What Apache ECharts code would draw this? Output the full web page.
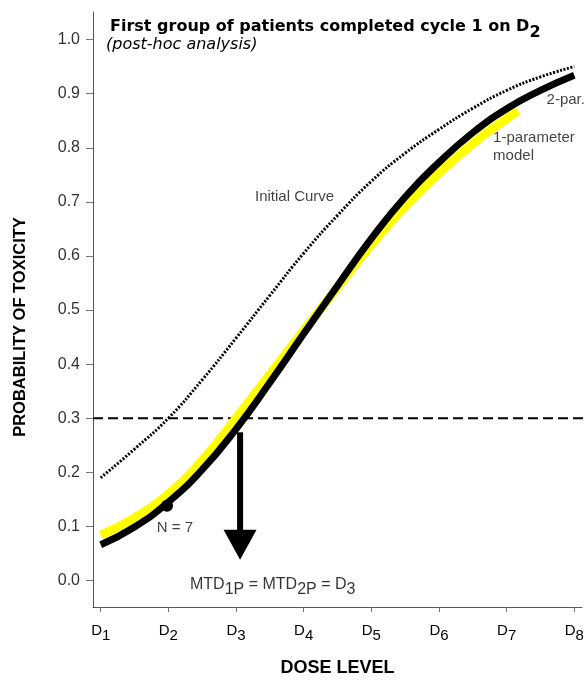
<!DOCTYPE html>
<html><head><meta charset="utf-8">
<script src="https://cdn.jsdelivr.net/npm/echarts@6/dist/echarts.min.js"></script>
<style>html,body{margin:0;padding:0;background:#fff}#c{width:588px;height:692px}</style>
</head><body><div id="c"></div>
<script>
// ---- data ----
const doseTicks = [1, 2, 3, 4, 5, 6, 7, 8];
const doseLabels = ['1', '2', '3', '4', '5', '6', '7', '8'];
const probTicks = [0, 0.1, 0.2, 0.3, 0.4, 0.5, 0.6, 0.7, 0.8, 0.9, 1.0];
const curveDoses = [1, 1.5, 2, 2.5, 3, 3.5, 4, 4.5, 5, 5.5, 6, 6.5, 7, 7.5, 8];
const initialCurve = [0.19, 0.243, 0.30, 0.371, 0.448, 0.527, 0.605, 0.675, 0.738, 0.79, 0.834, 0.873, 0.906, 0.931, 0.95];
const twoParCurve = [0.066, 0.099, 0.145, 0.205, 0.28, 0.366, 0.456, 0.545, 0.632, 0.709, 0.773, 0.828, 0.872, 0.906, 0.934];
const oneParDoses = [1, 1.5, 2, 2.5, 3, 3.5, 4, 4.5, 5, 5.5, 6, 6.5, 7, 7.17];
const oneParCurve = [0.084, 0.116, 0.16, 0.222, 0.3, 0.381, 0.462, 0.542, 0.621, 0.692, 0.753, 0.808, 0.854, 0.868];
const targetTox = 0.3;
const targetRange = [0.886, 8.2];
const observedDose = [1.98];
const observedTox = [0.138];
const mtdArrowDose = 3.06;
const mtdArrowShaft = [0.274, 0.088];
const mtdArrowHead = 0.066;
const noteTexts = ['Initial Curve', 'N = 7', '2-par.', '1-parameter\nmodel'];
const noteDoses = [3.28, 1.83, 7.59, 6.80];
const noteProbs = [0.709, 0.097, 0.888, 0.801];
const mtdNoteDose = 2.32;
const mtdNoteProb = -0.009;

// ---- chart ----
const FONT = '"Liberation Sans", Arial, sans-serif';
const WIDE = '"DejaVu Sans", sans-serif';
const pair = (xs, ys) => xs.map((x, i) => [x, ys[i]]);
const chart = echarts.init(document.getElementById('c'));
const subRich = (family, size, weight, pad) => ({
  m: {fontFamily: family, fontSize: size, fontWeight: weight, color: '#000', verticalAlign: 'top', lineHeight: size + 2},
  s: {fontFamily: family, fontSize: size, fontWeight: weight, color: '#000', verticalAlign: 'top', lineHeight: size + 2, padding: [pad, 0, 0, 0]}
});

const option = {
  animation: false,
  backgroundColor: '#fff',
  title: [
    {text: '{m|First group of patients completed cycle 1 on D}{s|2}', left: 105, top: 14,
     textStyle: {rich: subRich(WIDE, 16, 'bold', 6)}},
    {text: '(post-hoc analysis)', left: 101, top: 32,
     textStyle: {fontFamily: WIDE, fontSize: 16, fontStyle: 'italic', fontWeight: 'normal', color: '#000'}}
  ],
  grid: {left: 93, right: 6, top: 12, bottom: 85},
  xAxis: {
    type: 'value', min: 0.886, max: 8.114,
    name: 'DOSE LEVEL', nameLocation: 'middle', nameGap: 52,
    nameTextStyle: {fontFamily: FONT, fontSize: 18, fontWeight: 'bold', color: '#000'},
    axisLine: {show: true, onZero: false, lineStyle: {color: '#555', width: 1}},
    axisTick: {show: true, customValues: doseTicks, length: 5, lineStyle: {color: '#777'}},
    axisLabel: {
      customValues: doseTicks, margin: 16,
      formatter: v => '{m|D}{s|' + doseLabels[doseTicks.indexOf(v)] + '}',
      rich: subRich(FONT, 15, 'normal', 5)
    },
    splitLine: {show: false}
  },
  yAxis: {
    type: 'value', min: -0.049, max: 1.051,
    axisLine: {show: true, onZero: false, lineStyle: {color: '#555', width: 1}},
    axisTick: {show: true, customValues: probTicks, length: 7, lineStyle: {color: '#777'}},
    axisLabel: {customValues: probTicks, margin: 13, formatter: v => v.toFixed(1),
      fontFamily: FONT, fontSize: 16, color: '#333'},
    splitLine: {show: false}
  },
  graphic: [{
    type: 'text', x: 20, y: 327, rotation: Math.PI / 2,
    style: {text: 'PROBABILITY OF TOXICITY', font: 'bold 16.5px "Liberation Sans", Arial, sans-serif',
      fill: '#000', align: 'center', verticalAlign: 'middle'}
  }],
  series: [
    {type: 'line', name: 'target', data: pair(targetRange, [targetTox, targetTox]), symbol: 'none', clip: false,
     lineStyle: {color: '#000', width: 2, type: [10, 5]}, z: 1},
    {type: 'line', name: 'Initial Curve', data: pair(curveDoses, initialCurve), symbol: 'none', smooth: 0.5,
     lineStyle: {color: '#000', width: 3, type: [2, 1.6]}, z: 2},
    {type: 'line', name: '1-parameter model', data: pair(oneParDoses, oneParCurve), symbol: 'none', smooth: 0.5,
     lineStyle: {color: '#ffff00', width: 9, cap: 'butt'}, z: 3},
    {type: 'line', name: '2-par.', data: pair(curveDoses, twoParCurve), symbol: 'none', smooth: 0.5,
     lineStyle: {color: '#000', width: 7, cap: 'butt'}, z: 4},
    {type: 'scatter', name: 'observed', data: pair(observedDose, observedTox), symbol: 'circle', symbolSize: 12,
     itemStyle: {color: '#000', opacity: 1}, z: 5},
    {type: 'line', name: 'mtd shaft', data: pair([mtdArrowDose, mtdArrowDose], mtdArrowShaft), symbol: 'none',
     lineStyle: {color: '#000', width: 6, cap: 'butt'}, z: 5},
    {type: 'scatter', name: 'mtd head', data: [[mtdArrowDose, mtdArrowHead]], symbol: 'triangle', symbolRotate: 180,
     symbolSize: [33, 30], itemStyle: {color: '#000', opacity: 1}, z: 5},
    {type: 'scatter', name: 'notes', symbolSize: 0, z: 6, silent: true,
     data: noteTexts.map((t, i) => ({value: [noteDoses[i], noteProbs[i]], label: {formatter: t}})),
     label: {show: true, position: 'right', distance: 0, fontFamily: FONT, fontSize: 15, color: '#111', lineHeight: 18}},
    {type: 'scatter', name: 'mtd note', symbolSize: 0, z: 6, silent: true,
     data: [[mtdNoteDose, mtdNoteProb]],
     label: {show: true, position: 'right', distance: 0,
       formatter: '{m|MTD}{s|1P}{m| = MTD}{s|2P}{m| = D}{s|3}', rich: subRich(FONT, 16, 'normal', 5)}}
  ]
};
chart.setOption(option);
</script>
</body></html>
